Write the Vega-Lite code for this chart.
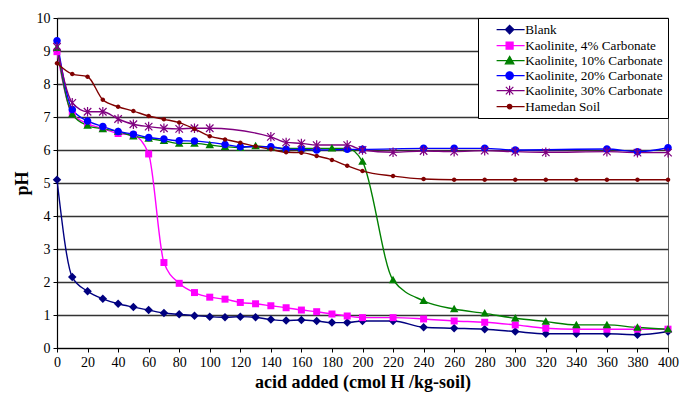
{
  "$schema": "https://vega.github.io/schema/vega-lite/v6.json",
  "width": 611,
  "height": 330,
  "autosize": {"type": "none"},
  "padding": {"left": 57, "top": 18, "right": 13, "bottom": 49},
  "background": "white",
  "config": {
    "font": "Liberation Serif",
    "view": {"stroke": "#666666", "strokeWidth": 1},
    "axis": {"labelFont": "Liberation Serif", "titleFont": "Liberation Serif", "labelColor": "black", "titleColor": "black", "domainColor": "black", "tickColor": "black"}
  },
  "datasets": {
    "ph": [
      {"series": "Blank", "x": 0, "pH": 5.1}, {"series": "Blank", "x": 10, "pH": 2.15}, {"series": "Blank", "x": 20, "pH": 1.72}, {"series": "Blank", "x": 30, "pH": 1.49}, {"series": "Blank", "x": 40, "pH": 1.34}, {"series": "Blank", "x": 50, "pH": 1.24}, {"series": "Blank", "x": 60, "pH": 1.15}, {"series": "Blank", "x": 70, "pH": 1.06}, {"series": "Blank", "x": 80, "pH": 1.02}, {"series": "Blank", "x": 90, "pH": 0.98}, {"series": "Blank", "x": 100, "pH": 0.95}, {"series": "Blank", "x": 110, "pH": 0.93}, {"series": "Blank", "x": 120, "pH": 0.95}, {"series": "Blank", "x": 130, "pH": 0.93}, {"series": "Blank", "x": 140, "pH": 0.86}, {"series": "Blank", "x": 150, "pH": 0.83}, {"series": "Blank", "x": 160, "pH": 0.85}, {"series": "Blank", "x": 170, "pH": 0.82}, {"series": "Blank", "x": 180, "pH": 0.77}, {"series": "Blank", "x": 190, "pH": 0.77}, {"series": "Blank", "x": 200, "pH": 0.82}, {"series": "Blank", "x": 220, "pH": 0.82}, {"series": "Blank", "x": 240, "pH": 0.63}, {"series": "Blank", "x": 260, "pH": 0.6}, {"series": "Blank", "x": 280, "pH": 0.57}, {"series": "Blank", "x": 300, "pH": 0.5}, {"series": "Blank", "x": 320, "pH": 0.43}, {"series": "Blank", "x": 340, "pH": 0.43}, {"series": "Blank", "x": 360, "pH": 0.43}, {"series": "Blank", "x": 380, "pH": 0.4}, {"series": "Blank", "x": 400, "pH": 0.5},

      {"series": "Kaolinite, 4% Carbonate", "x": 0, "pH": 8.98}, {"series": "Kaolinite, 4% Carbonate", "x": 10, "pH": 7.1}, {"series": "Kaolinite, 4% Carbonate", "x": 20, "pH": 6.8}, {"series": "Kaolinite, 4% Carbonate", "x": 30, "pH": 6.65}, {"series": "Kaolinite, 4% Carbonate", "x": 40, "pH": 6.5}, {"series": "Kaolinite, 4% Carbonate", "x": 50, "pH": 6.45}, {"series": "Kaolinite, 4% Carbonate", "x": 60, "pH": 5.88}, {"series": "Kaolinite, 4% Carbonate", "x": 70, "pH": 2.59}, {"series": "Kaolinite, 4% Carbonate", "x": 80, "pH": 1.96}, {"series": "Kaolinite, 4% Carbonate", "x": 90, "pH": 1.68}, {"series": "Kaolinite, 4% Carbonate", "x": 100, "pH": 1.54}, {"series": "Kaolinite, 4% Carbonate", "x": 110, "pH": 1.48}, {"series": "Kaolinite, 4% Carbonate", "x": 120, "pH": 1.38}, {"series": "Kaolinite, 4% Carbonate", "x": 130, "pH": 1.34}, {"series": "Kaolinite, 4% Carbonate", "x": 140, "pH": 1.28}, {"series": "Kaolinite, 4% Carbonate", "x": 150, "pH": 1.22}, {"series": "Kaolinite, 4% Carbonate", "x": 160, "pH": 1.15}, {"series": "Kaolinite, 4% Carbonate", "x": 170, "pH": 1.1}, {"series": "Kaolinite, 4% Carbonate", "x": 180, "pH": 1.03}, {"series": "Kaolinite, 4% Carbonate", "x": 190, "pH": 0.97}, {"series": "Kaolinite, 4% Carbonate", "x": 200, "pH": 0.92}, {"series": "Kaolinite, 4% Carbonate", "x": 220, "pH": 0.92}, {"series": "Kaolinite, 4% Carbonate", "x": 240, "pH": 0.88}, {"series": "Kaolinite, 4% Carbonate", "x": 260, "pH": 0.82}, {"series": "Kaolinite, 4% Carbonate", "x": 280, "pH": 0.78}, {"series": "Kaolinite, 4% Carbonate", "x": 300, "pH": 0.7}, {"series": "Kaolinite, 4% Carbonate", "x": 320, "pH": 0.6}, {"series": "Kaolinite, 4% Carbonate", "x": 340, "pH": 0.57}, {"series": "Kaolinite, 4% Carbonate", "x": 360, "pH": 0.57}, {"series": "Kaolinite, 4% Carbonate", "x": 380, "pH": 0.57}, {"series": "Kaolinite, 4% Carbonate", "x": 400, "pH": 0.57},

      {"series": "Kaolinite, 10% Carbonate", "x": 0, "pH": 9.1}, {"series": "Kaolinite, 10% Carbonate", "x": 10, "pH": 7.08}, {"series": "Kaolinite, 10% Carbonate", "x": 20, "pH": 6.74}, {"series": "Kaolinite, 10% Carbonate", "x": 30, "pH": 6.64}, {"series": "Kaolinite, 10% Carbonate", "x": 40, "pH": 6.56}, {"series": "Kaolinite, 10% Carbonate", "x": 50, "pH": 6.42}, {"series": "Kaolinite, 10% Carbonate", "x": 60, "pH": 6.35}, {"series": "Kaolinite, 10% Carbonate", "x": 70, "pH": 6.28}, {"series": "Kaolinite, 10% Carbonate", "x": 80, "pH": 6.2}, {"series": "Kaolinite, 10% Carbonate", "x": 90, "pH": 6.2}, {"series": "Kaolinite, 10% Carbonate", "x": 100, "pH": 6.15}, {"series": "Kaolinite, 10% Carbonate", "x": 110, "pH": 6.1}, {"series": "Kaolinite, 10% Carbonate", "x": 120, "pH": 6.07}, {"series": "Kaolinite, 10% Carbonate", "x": 130, "pH": 6.12}, {"series": "Kaolinite, 10% Carbonate", "x": 140, "pH": 6.08}, {"series": "Kaolinite, 10% Carbonate", "x": 150, "pH": 6.05}, {"series": "Kaolinite, 10% Carbonate", "x": 160, "pH": 6.05}, {"series": "Kaolinite, 10% Carbonate", "x": 170, "pH": 6.05}, {"series": "Kaolinite, 10% Carbonate", "x": 180, "pH": 6.05}, {"series": "Kaolinite, 10% Carbonate", "x": 190, "pH": 6.05}, {"series": "Kaolinite, 10% Carbonate", "x": 200, "pH": 5.65}, {"series": "Kaolinite, 10% Carbonate", "x": 220, "pH": 2.06}, {"series": "Kaolinite, 10% Carbonate", "x": 240, "pH": 1.43}, {"series": "Kaolinite, 10% Carbonate", "x": 260, "pH": 1.18}, {"series": "Kaolinite, 10% Carbonate", "x": 280, "pH": 1.05}, {"series": "Kaolinite, 10% Carbonate", "x": 300, "pH": 0.9}, {"series": "Kaolinite, 10% Carbonate", "x": 320, "pH": 0.8}, {"series": "Kaolinite, 10% Carbonate", "x": 340, "pH": 0.7}, {"series": "Kaolinite, 10% Carbonate", "x": 360, "pH": 0.7}, {"series": "Kaolinite, 10% Carbonate", "x": 380, "pH": 0.62}, {"series": "Kaolinite, 10% Carbonate", "x": 400, "pH": 0.57},

      {"series": "Kaolinite, 20% Carbonate", "x": 0, "pH": 9.31}, {"series": "Kaolinite, 20% Carbonate", "x": 10, "pH": 7.23}, {"series": "Kaolinite, 20% Carbonate", "x": 20, "pH": 6.88}, {"series": "Kaolinite, 20% Carbonate", "x": 30, "pH": 6.71}, {"series": "Kaolinite, 20% Carbonate", "x": 40, "pH": 6.56}, {"series": "Kaolinite, 20% Carbonate", "x": 50, "pH": 6.48}, {"series": "Kaolinite, 20% Carbonate", "x": 60, "pH": 6.38}, {"series": "Kaolinite, 20% Carbonate", "x": 70, "pH": 6.33}, {"series": "Kaolinite, 20% Carbonate", "x": 80, "pH": 6.28}, {"series": "Kaolinite, 20% Carbonate", "x": 90, "pH": 6.27}, {"series": "Kaolinite, 20% Carbonate", "x": 110, "pH": 6.17}, {"series": "Kaolinite, 20% Carbonate", "x": 120, "pH": 6.1}, {"series": "Kaolinite, 20% Carbonate", "x": 140, "pH": 6.1}, {"series": "Kaolinite, 20% Carbonate", "x": 150, "pH": 6.02}, {"series": "Kaolinite, 20% Carbonate", "x": 160, "pH": 6.02}, {"series": "Kaolinite, 20% Carbonate", "x": 170, "pH": 6.0}, {"series": "Kaolinite, 20% Carbonate", "x": 190, "pH": 6.02}, {"series": "Kaolinite, 20% Carbonate", "x": 200, "pH": 6.02}, {"series": "Kaolinite, 20% Carbonate", "x": 240, "pH": 6.05}, {"series": "Kaolinite, 20% Carbonate", "x": 260, "pH": 6.05}, {"series": "Kaolinite, 20% Carbonate", "x": 280, "pH": 6.05}, {"series": "Kaolinite, 20% Carbonate", "x": 300, "pH": 6.0}, {"series": "Kaolinite, 20% Carbonate", "x": 360, "pH": 6.03}, {"series": "Kaolinite, 20% Carbonate", "x": 380, "pH": 5.95}, {"series": "Kaolinite, 20% Carbonate", "x": 400, "pH": 6.07},

      {"series": "Kaolinite, 30% Carbonate", "x": 0, "pH": 9.13}, {"series": "Kaolinite, 30% Carbonate", "x": 10, "pH": 7.43}, {"series": "Kaolinite, 30% Carbonate", "x": 20, "pH": 7.16}, {"series": "Kaolinite, 30% Carbonate", "x": 30, "pH": 7.16}, {"series": "Kaolinite, 30% Carbonate", "x": 40, "pH": 6.94}, {"series": "Kaolinite, 30% Carbonate", "x": 50, "pH": 6.78}, {"series": "Kaolinite, 30% Carbonate", "x": 60, "pH": 6.71}, {"series": "Kaolinite, 30% Carbonate", "x": 70, "pH": 6.66}, {"series": "Kaolinite, 30% Carbonate", "x": 80, "pH": 6.64}, {"series": "Kaolinite, 30% Carbonate", "x": 90, "pH": 6.66}, {"series": "Kaolinite, 30% Carbonate", "x": 100, "pH": 6.66}, {"series": "Kaolinite, 30% Carbonate", "x": 140, "pH": 6.4}, {"series": "Kaolinite, 30% Carbonate", "x": 150, "pH": 6.23}, {"series": "Kaolinite, 30% Carbonate", "x": 160, "pH": 6.2}, {"series": "Kaolinite, 30% Carbonate", "x": 170, "pH": 6.15}, {"series": "Kaolinite, 30% Carbonate", "x": 190, "pH": 6.15}, {"series": "Kaolinite, 30% Carbonate", "x": 200, "pH": 6.0}, {"series": "Kaolinite, 30% Carbonate", "x": 220, "pH": 5.93}, {"series": "Kaolinite, 30% Carbonate", "x": 240, "pH": 5.97}, {"series": "Kaolinite, 30% Carbonate", "x": 260, "pH": 5.95}, {"series": "Kaolinite, 30% Carbonate", "x": 280, "pH": 5.98}, {"series": "Kaolinite, 30% Carbonate", "x": 300, "pH": 5.95}, {"series": "Kaolinite, 30% Carbonate", "x": 320, "pH": 5.93}, {"series": "Kaolinite, 30% Carbonate", "x": 360, "pH": 5.95}, {"series": "Kaolinite, 30% Carbonate", "x": 380, "pH": 5.92}, {"series": "Kaolinite, 30% Carbonate", "x": 400, "pH": 5.92},

      {"series": "Hamedan Soil", "x": 0, "pH": 8.63}, {"series": "Hamedan Soil", "x": 10, "pH": 8.3}, {"series": "Hamedan Soil", "x": 20, "pH": 8.22}, {"series": "Hamedan Soil", "x": 30, "pH": 7.52}, {"series": "Hamedan Soil", "x": 40, "pH": 7.31}, {"series": "Hamedan Soil", "x": 50, "pH": 7.18}, {"series": "Hamedan Soil", "x": 60, "pH": 7.03}, {"series": "Hamedan Soil", "x": 70, "pH": 6.93}, {"series": "Hamedan Soil", "x": 80, "pH": 6.83}, {"series": "Hamedan Soil", "x": 90, "pH": 6.64}, {"series": "Hamedan Soil", "x": 100, "pH": 6.42}, {"series": "Hamedan Soil", "x": 110, "pH": 6.32}, {"series": "Hamedan Soil", "x": 120, "pH": 6.22}, {"series": "Hamedan Soil", "x": 130, "pH": 6.11}, {"series": "Hamedan Soil", "x": 140, "pH": 6.02}, {"series": "Hamedan Soil", "x": 150, "pH": 5.93}, {"series": "Hamedan Soil", "x": 160, "pH": 5.92}, {"series": "Hamedan Soil", "x": 170, "pH": 5.82}, {"series": "Hamedan Soil", "x": 180, "pH": 5.7}, {"series": "Hamedan Soil", "x": 190, "pH": 5.52}, {"series": "Hamedan Soil", "x": 200, "pH": 5.36}, {"series": "Hamedan Soil", "x": 220, "pH": 5.21}, {"series": "Hamedan Soil", "x": 240, "pH": 5.12}, {"series": "Hamedan Soil", "x": 260, "pH": 5.1}, {"series": "Hamedan Soil", "x": 280, "pH": 5.1}, {"series": "Hamedan Soil", "x": 300, "pH": 5.1}, {"series": "Hamedan Soil", "x": 320, "pH": 5.1}, {"series": "Hamedan Soil", "x": 340, "pH": 5.1}, {"series": "Hamedan Soil", "x": 360, "pH": 5.1}, {"series": "Hamedan Soil", "x": 380, "pH": 5.1}, {"series": "Hamedan Soil", "x": 400, "pH": 5.1}
    ]
  },
  "data": {"name": "ph"},
  "resolve": {"scale": {"shape": "independent", "fill": "independent", "stroke": "independent"}},
  "encoding": {
    "x": {
      "field": "x", "type": "quantitative",
      "scale": {"domain": [0, 400], "nice": false},
      "axis": {
        "title": "acid added (cmol H /kg-soil)",
        "values": [0, 20, 40, 60, 80, 100, 120, 140, 160, 180, 200, 220, 240, 260, 280, 300, 320, 340, 360, 380, 400],
        "grid": false, "labelFontSize": 14, "tickSize": 4, "labelPadding": 3,
        "titleFontSize": 18, "titleFontWeight": "bold", "titlePadding": 4,
        "domainWidth": 1.2, "labelFlush": false, "labelOverlap": false
      }
    },
    "y": {
      "field": "pH", "type": "quantitative",
      "scale": {"domain": [0, 10], "nice": false},
      "axis": {
        "title": "pH",
        "values": [0, 1, 2, 3, 4, 5, 6, 7, 8, 9, 10],
        "grid": true, "gridColor": "#333333", "gridWidth": 1.6, "gridOpacity": 1,
        "labelFontSize": 14, "tickSize": 4, "labelPadding": 3,
        "titleFontSize": 18, "titleFontWeight": "bold", "titlePadding": 5,
        "domainWidth": 1.2
      }
    }
  },
  "layer": [
    {
      "mark": {"type": "line", "interpolate": "monotone", "strokeWidth": 1.4},
      "encoding": {
        "color": {
          "field": "series", "type": "nominal", "legend": null,
          "scale": {
            "domain": ["Blank", "Kaolinite, 4% Carbonate", "Kaolinite, 10% Carbonate", "Kaolinite, 20% Carbonate", "Kaolinite, 30% Carbonate", "Hamedan Soil"],
            "range": ["#000080", "#FF00FF", "#008000", "#0000FF", "#800080", "#800000"]
          }
        }
      }
    },
    {
      "transform": [{"filter": "datum.series === 'Blank'"}],
      "mark": {"type": "point", "filled": true, "size": 100, "opacity": 1, "shape": "M-0.85,0L0,-0.85L0.85,0L0,0.85Z"},
      "encoding": {"color": {"field": "series", "type": "nominal", "legend": null}}
    },
    {
      "transform": [{"filter": "datum.series === 'Kaolinite, 4% Carbonate'"}],
      "mark": {"type": "point", "filled": true, "size": 100, "opacity": 1, "shape": "M-0.7,-0.7L0.7,-0.7L0.7,0.7L-0.7,0.7Z"},
      "encoding": {"color": {"field": "series", "type": "nominal", "legend": null}}
    },
    {
      "transform": [{"filter": "datum.series === 'Kaolinite, 10% Carbonate'"}],
      "mark": {"type": "point", "filled": true, "size": 100, "opacity": 1, "shape": "M0,-0.85L0.85,0.65L-0.85,0.65Z"},
      "encoding": {"color": {"field": "series", "type": "nominal", "legend": null}}
    },
    {
      "transform": [{"filter": "datum.series === 'Kaolinite, 20% Carbonate'"}],
      "mark": {"type": "point", "filled": true, "size": 100, "opacity": 1, "shape": "M-0.75,0A0.75,0.75,0,1,0,0.75,0A0.75,0.75,0,1,0,-0.75,0Z"},
      "encoding": {"color": {"field": "series", "type": "nominal", "legend": null}}
    },
    {
      "transform": [{"filter": "datum.series === 'Kaolinite, 30% Carbonate'"}],
      "mark": {"type": "point", "filled": false, "size": 100, "opacity": 1, "strokeWidth": 1.2, "shape": "M-0.75,-0.75L0.75,0.75M-0.75,0.75L0.75,-0.75M0,-0.95L0,0.95"},
      "encoding": {"color": {"field": "series", "type": "nominal", "legend": null}}
    },
    {
      "transform": [{"filter": "datum.series === 'Hamedan Soil'"}],
      "mark": {"type": "point", "filled": true, "size": 100, "opacity": 1, "shape": "M-0.45,0A0.45,0.45,0,1,0,0.45,0A0.45,0.45,0,1,0,-0.45,0Z"},
      "encoding": {"color": {"field": "series", "type": "nominal", "legend": null}}
    },
    {
      "transform": [{"filter": "datum.x < 0"}],
      "mark": {"type": "point", "filled": true, "size": 100, "opacity": 1, "strokeWidth": 1.2},
      "encoding": {
        "fill": {
          "field": "series", "type": "nominal",
          "scale": {
            "domain": ["Blank", "Kaolinite, 4% Carbonate", "Kaolinite, 10% Carbonate", "Kaolinite, 20% Carbonate", "Kaolinite, 30% Carbonate", "Hamedan Soil"],
            "range": ["#000080", "#FF00FF", "#008000", "#0000FF", "#800080", "#800000"]
          }
        },
        "stroke": {
          "field": "series", "type": "nominal",
          "scale": {
            "domain": ["Blank", "Kaolinite, 4% Carbonate", "Kaolinite, 10% Carbonate", "Kaolinite, 20% Carbonate", "Kaolinite, 30% Carbonate", "Hamedan Soil"],
            "range": ["#000080", "#FF00FF", "#008000", "#0000FF", "#800080", "#800000"]
          }
        },
        "shape": {
          "field": "series", "type": "nominal",
          "scale": {
            "domain": ["Blank", "Kaolinite, 4% Carbonate", "Kaolinite, 10% Carbonate", "Kaolinite, 20% Carbonate", "Kaolinite, 30% Carbonate", "Hamedan Soil"],
            "range": [
              "M1.4,0L7,0M3.15,0L4,-0.85L4.85,0L4,0.85Z",
              "M1.4,0L7,0M3.3,-0.7L4.7,-0.7L4.7,0.7L3.3,0.7Z",
              "M1.4,0L7,0M4,-0.85L4.85,0.65L3.15,0.65Z",
              "M1.4,0L7,0M3.25,0A0.75,0.75,0,1,0,4.75,0A0.75,0.75,0,1,0,3.25,0Z",
              "M1.4,0L7,0M3.25,-0.75L4.75,0.75M3.25,0.75L4.75,-0.75M4,-0.95L4,0.95",
              "M1.4,0L7,0M3.55,0A0.45,0.45,0,1,0,4.45,0A0.45,0.45,0,1,0,3.55,0Z"
            ]
          },
          "legend": {
            "title": null,
            "orient": "top-right",
            "offset": 0,
            "padding": 5,
            "rowPadding": 1,
            "strokeColor": "black",
            "fillColor": "white",
            "labelFont": "Liberation Serif",
            "labelFontSize": 13.2,
            "labelColor": "black",
            "labelOffset": 29,
            "labelLimit": 300,
            "symbolSize": 100,
            "symbolStrokeWidth": 1.2,
            "symbolOpacity": 1
          }
        }
      }
    }
  ]
}
